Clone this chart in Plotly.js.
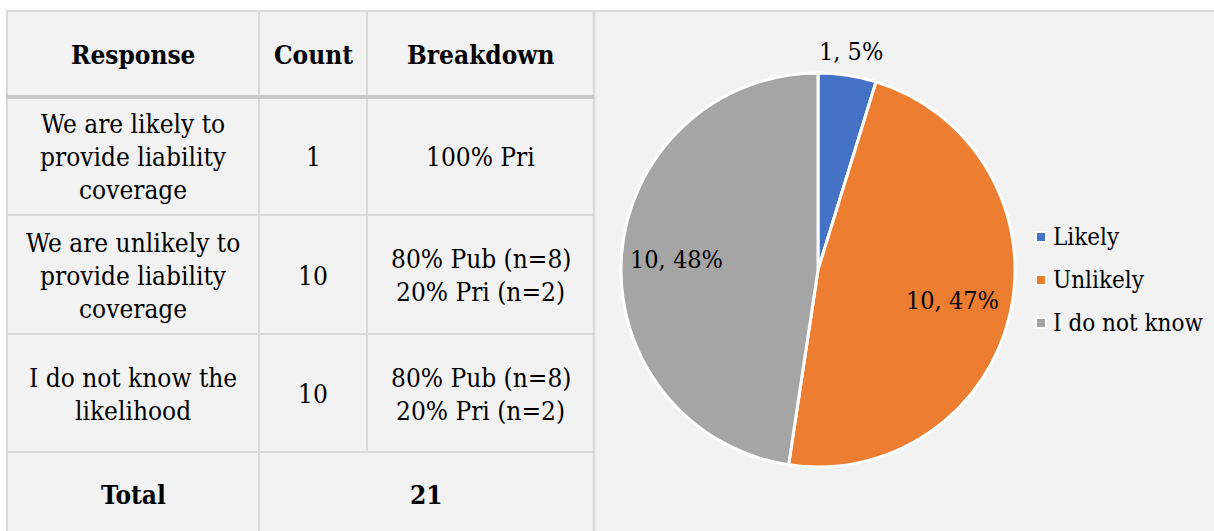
<!DOCTYPE html>
<html>
<head>
<meta charset="utf-8">
<script src="https://cdn.plot.ly/plotly-3.0.1.min.js"></script>
<style>html,body{margin:0;padding:0;background:#fff;}#chart{width:1214px;height:531px;}</style>
</head>
<body>
<div id="chart"></div>
<script>
// ---- data ----
var headers = ["Response", "Count", "Breakdown"];
var responses = ["We are likely to<br>provide liability<br>coverage",
                 "We are unlikely to<br>provide liability<br>coverage",
                 "I do not know the<br>likelihood"];
var counts = [1, 10, 10];
var breakdowns = ["100% Pri", "80% Pub (n=8)<br>20% Pri (n=2)", "80% Pub (n=8)<br>20% Pri (n=2)"];
var totalLabel = "Total";
var totalCount = 21;

var pieLabels = ["Likely", "Unlikely", "I do not know"];
var pieValues = [1, 10, 10];
var piePctLabels = ["5%", "47%", "48%"];
var pieColors = ["#4472C4", "#ED7D31", "#A5A5A5"];

// ---- layout geometry (pixels) ----
var W = 1214, H = 531;
var colX = [7, 259, 367, 594];
var rowY = [11, 97, 215, 334, 452, 536];
var lineH = 33;
var FONT = "DejaVu Serif Condensed";
var TABLE_SIZE = 26, PIE_SIZE = 25, LEG_SIZE = 24;
var gridCol = "#d9d9d9";

var shapes = [];
var annotations = [];

shapes.push({type:"rect", xref:"x", yref:"y", x0:6, x1:W, y0:10, y1:H+5, fillcolor:"#f2f2f2", line:{width:0}, layer:"below"});
shapes.push({type:"line", xref:"x", yref:"y", x0:6, x1:W, y0:11, y1:11, line:{color:gridCol, width:2}});
shapes.push({type:"line", xref:"x", yref:"y", x0:7, x1:7, y0:11, y1:H+5, line:{color:gridCol, width:2}});
shapes.push({type:"line", xref:"x", yref:"y", x0:colX[1], x1:colX[1], y0:11, y1:H+5, line:{color:gridCol, width:2}});
shapes.push({type:"line", xref:"x", yref:"y", x0:colX[2], x1:colX[2], y0:11, y1:rowY[4], line:{color:gridCol, width:2}});
shapes.push({type:"line", xref:"x", yref:"y", x0:colX[3], x1:colX[3], y0:11, y1:H+5, line:{color:gridCol, width:2.5}});
for (var r = 2; r <= 4; r++) {
  shapes.push({type:"line", xref:"x", yref:"y", x0:6, x1:colX[3], y0:rowY[r], y1:rowY[r], line:{color:gridCol, width:2}});
}
shapes.push({type:"line", xref:"x", yref:"y", x0:6, x1:colX[3], y0:rowY[1], y1:rowY[1], line:{color:"#c9c9c9", width:4}});

function addCellText(text, cx, cy, bold) {
  var lines = String(text).split("<br>");
  var n = lines.length;
  for (var i = 0; i < n; i++) {
    annotations.push({
      xref:"x", yref:"y", x:cx, y:cy + 1 + (i - (n-1)/2) * lineH,
      text: bold ? "<b>" + lines[i] + "</b>" : lines[i],
      showarrow:false, xanchor:"center", yanchor:"middle",
      font:{family:FONT, size:TABLE_SIZE, color:"#000"}
    });
  }
}

var hdrY = (rowY[0] + rowY[1]) / 2;
for (var c = 0; c < 3; c++) {
  addCellText(headers[c], (colX[c] + colX[c+1]) / 2, hdrY, true);
}
for (var k = 0; k < responses.length; k++) {
  var cy = (rowY[k+1] + rowY[k+2]) / 2;
  addCellText(responses[k], (colX[0] + colX[1]) / 2, cy, false);
  addCellText(counts[k], (colX[1] + colX[2]) / 2, cy, false);
  addCellText(breakdowns[k], (colX[2] + colX[3]) / 2, cy, false);
}
var totY = 494;
addCellText(totalLabel, (colX[0] + colX[1]) / 2, totY, true);
addCellText(totalCount, (colX[1] + colX[3]) / 2, totY, true);

// ---- pie ----
var pcx = 818, pcy = 270, pr = 197;
var pie = {
  type:"pie",
  labels: pieLabels,
  values: pieValues,
  textinfo: "none",
  marker: {colors: pieColors, line:{color:"#ffffff", width:3}},
  sort: false,
  direction: "clockwise",
  rotation: 0,
  hoverinfo: "label+value+percent",
  domain: {x:[(pcx-pr)/W, (pcx+pr)/W], y:[1-(pcy+pr)/H, 1-(pcy-pr)/H]},
  showlegend: false
};

var total = pieValues.reduce(function(a,b){return a+b;}, 0);
var labelRadius = [1.12, 0.70, 0.72];
var cum = 0;
for (var s = 0; s < pieValues.length; s++) {
  var mid = (cum + pieValues[s] / 2) / total * 2 * Math.PI;
  cum += pieValues[s];
  annotations.push({
    xref:"x", yref:"y",
    x: pcx + Math.sin(mid) * pr * labelRadius[s],
    y: pcy - Math.cos(mid) * pr * labelRadius[s],
    text: pieValues[s] + ", " + piePctLabels[s],
    showarrow:false, xanchor:"center", yanchor:"middle",
    font:{family:FONT, size:PIE_SIZE, color:"#000"}
  });
}

var legX = 1036, legY0 = 237, legGap = 43, sq = 10;
for (var j = 0; j < pieLabels.length; j++) {
  var ly = legY0 + j * legGap;
  shapes.push({type:"rect", xref:"x", yref:"y", x0:legX, x1:legX+sq, y0:ly-sq/2, y1:ly+sq/2,
               fillcolor:pieColors[j], line:{color:"#ffffff", width:2}});
  annotations.push({
    xref:"x", yref:"y", x:legX+sq+5, y:ly,
    text: pieLabels[j], showarrow:false, xanchor:"left", yanchor:"middle",
    font:{family:FONT, size:LEG_SIZE, color:"#000"}
  });
}

var layout = {
  width: W, height: H,
  margin: {l:0, r:0, t:0, b:0, pad:0},
  paper_bgcolor: "#ffffff",
  plot_bgcolor: "rgba(0,0,0,0)",
  font: {family: FONT},
  xaxis: {range:[0, W], visible:false, fixedrange:true},
  yaxis: {range:[H, 0], visible:false, fixedrange:true},
  shapes: shapes,
  annotations: annotations,
  showlegend: false
};

Plotly.newPlot("chart", [pie], layout, {displayModeBar:false, staticPlot:true});
</script>
</body>
</html>
